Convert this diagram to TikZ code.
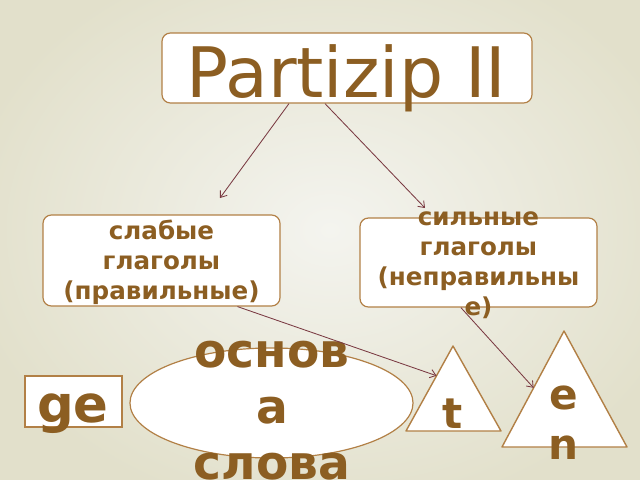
\documentclass[tikz,border=0pt]{standalone}
\usepackage{fontspec}
\setmainfont{DejaVu Sans}
\usetikzlibrary{shapes.geometric}
\usetikzlibrary{arrows.meta}
\usetikzlibrary{calc}
\usetikzlibrary{fit}
\definecolor{bgin}{RGB}{244,244,239}
\definecolor{bgout}{RGB}{226,224,203}
\definecolor{txtbrown}{RGB}{140,94,34}
\definecolor{edgebrown}{RGB}{178,128,70}
\definecolor{arrowred}{RGB}{122,58,66}

\tikzset{
  box/.style={draw=edgebrown,line width=0.85pt,fill=white,rounded corners=6pt,inner sep=0pt},
  plainbox/.style={draw=edgebrown,line width=0.85pt,fill=white,inner sep=0pt},
  tri/.style={draw=edgebrown,line width=1pt,fill=white,line join=round},
  boxtext/.style={text=txtbrown,font=\bfseries\fontsize{17.5}{21.3}\selectfont,align=center,inner sep=0pt},
  bigtext/.style n args={2}{text=txtbrown,font=\bfseries\fontsize{#1}{#2}\selectfont,align=center,inner sep=0pt},
  arr/.style={draw=arrowred,line width=0.6pt,-{Straight Barb[length=4pt,width=6pt]}}
}

\begin{document}
\begin{tikzpicture}[x=0.025cm,y=-0.025cm]
    % Background
    \clip (0,0) rectangle (640,480);
    \shade[inner color=bgin,outer color=bgout] (-40,-60) rectangle (700,520);
    % Boxes
    \node[box,fit={(162,33) (532,103)}] (ptbox) {};
    \node[box,fit={(43,215) (280,306)}] (weakbox) {};
    \node[box,fit={(360,218) (597,307)}] (strongbox) {};
    \node[plainbox,fit={(25,376) (122,427)}] (gebox) {};
    \node[ellipse,draw=edgebrown,line width=0.85pt,fill=white,
      minimum width=7.075cm,minimum height=2.75cm] (stemshape) at (271.5,403) {};
    \draw[tri] (453,346) coordinate (tapex)
        -- (501,431) -- (406,431) coordinate (tleft) -- cycle;
    \draw[tri] (564,331) coordinate (enapex)
        -- (627,447) -- (502,447) coordinate (enleft) -- cycle;
    % Texts
    \node[anchor=base,text=txtbrown,inner sep=0pt,font=\fontsize{49.5}{58}\selectfont]
      (ptitle) at (346.5,97) {Partizip II};
    \node[boxtext] (weaktext) at (161.5,262.5) {слабые\\глаголы\\(правильные)};
    \node[boxtext] (strongtext) at (478.5,265) {сильные\\глаголы\\(неправильны\\е)};
    \node[bigtext={36.5}{43},anchor=base] (ge) at (73,422) {ge};
    \node[bigtext={33.5}{39.7}] (stem) at (272,410.5) {основ\\а\\слова};
    \node[bigtext={30}{36},anchor=base] (tsuffix) at (453,428) {t};
    \node[bigtext={30}{35.4}] (ensuffix) at (564,423) {e\\n};
    % Arrows
    \coordinate (weaktip) at (220,198);
    \coordinate (strongtip) at (425,208);
    \draw[arr] ([xshift=-1.45cm]ptbox.south) -- (weaktip);
    \draw[arr] ([xshift=-0.55cm]ptbox.south) -- (strongtip);
    \draw[arr] ([xshift=1.9cm]weakbox.south) -- ($(tapex)!0.35!(tleft)$);
    \draw[arr] ([xshift=-0.44cm]strongbox.south) -- ($(enapex)!0.49!(enleft)$);
\end{tikzpicture}
\end{document}
